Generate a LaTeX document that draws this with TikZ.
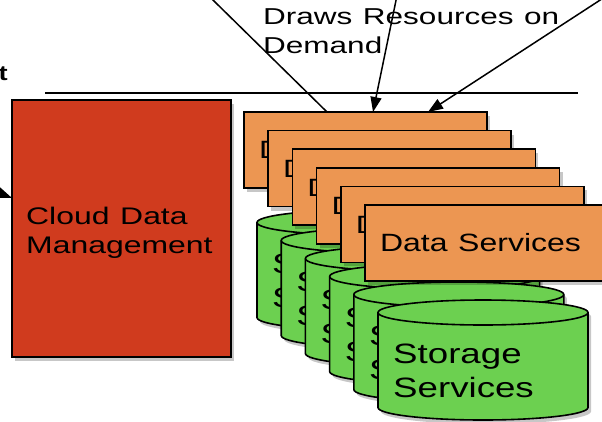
\documentclass[tikz,border=0pt]{standalone}
\usepackage{fontspec}
\setmainfont{Liberation Sans}
\usepackage{graphicx}
\usetikzlibrary{arrows.meta,shadows}
\definecolor{cdmred}{RGB}{208,59,30}
\definecolor{dsorange}{RGB}{236,150,82}
\definecolor{ssgreen}{RGB}{108,208,80}
\newcommand{\wx}[2][1.3]{\scalebox{#1}[1]{#2}}
\begin{document}
\begin{tikzpicture}[x=1pt,y=-1pt,
  shad/.style={drop shadow={shadow xshift=3pt,shadow yshift=-4pt,fill=black,opacity=0.22}},
  cdmbox/.style={draw,line width=1.6pt,fill=cdmred,shad,anchor=north west,outer sep=0pt,
    minimum width=219pt,minimum height=257pt,inner sep=0pt},
  dsbox/.style={draw,line width=1.6pt,fill=dsorange,shad,anchor=north west,outer sep=0pt,
    minimum height=76pt,text width=213pt,inner xsep=15pt,inner ysep=0pt,align=left,
    font=\fontsize{25}{30}\selectfont},
  cylbody/.style={draw,line width=1.6pt,fill=ssgreen,shad},
  cyltop/.style={draw,line width=1.6pt},
  sstext/.style={anchor=base west,inner sep=0pt,text width=190pt,align=left,
    font=\fontsize{28}{34}\selectfont},
  cdmtext/.style={anchor=base west,inner sep=0pt,text width=200pt,align=left,
    font=\fontsize{24}{29}\selectfont},
  drtext/.style={anchor=base west,inner sep=0pt,text width=330pt,align=left,
    font=\fontsize{23}{29}\selectfont},
  conn/.style={line width=1.5pt},
  arr/.style={line width=1.5pt,-{Triangle[length=15pt,width=11pt]}},
]
\useasboundingbox (0,0) rectangle (602,421);
\clip (0,0) rectangle (602,421);
\fill[white] (0,0) rectangle (602,421);

% Cloud Data Management
\node[cdmbox] (cdm) at (12,100) {};
\node[cdmtext] (cdmt) at (26,224) {\wx[1.33]{Cloud Data}\\\wx[1.33]{Management}};

% Storage services cylinders
\foreach \k in {0,...,5} {
  \pgfmathsetmacro\L{257+24.2*\k}
  \pgfmathsetmacro\T{210+18*\k}
  \path[cylbody] (\L,\T+12.5) -- (\L,\T+107.5)
    arc[start angle=180,end angle=0,x radius=105,y radius=12.5]
    -- (\L+210,\T+12.5)
    arc[start angle=0,end angle=-180,x radius=105,y radius=12.5] -- cycle;
  \draw[cyltop] (\L,\T+12.5) arc[start angle=180,end angle=0,x radius=105,y radius=12.5];
  \node[sstext] (ss\k) at (\L+15,\T+63) {\wx[1.31]{Storage}\\\wx[1.31]{Services}};
}

% Data services boxes
\foreach \k in {0,...,5} {
  \node[dsbox] (ds\k) at ({244+24.2*\k},{112+18.6*\k}) {\wx[1.28]{Data Services}};
}

% separator line
\coordinate (hl1) at (45,93);
\coordinate (hl2) at (578,93);
\draw[line width=1.2pt] (hl1) -- (hl2);

% arrows from above
\coordinate (s1) at (193,-19.6);
\coordinate (t1) at (327,112);
\coordinate (s2) at (400.2,-20);
\coordinate (t2) at (373,112);
\coordinate (s3) at (631,-20);
\coordinate (t3) at (428,112);
\draw[conn] (s1) -- (t1);
\draw[arr] (s2) -- (t2);
\draw[arr] (s3) -- (t3);

% arrow into the management box
\coordinate (la) at (-35,180);
\coordinate (lt) at (12,198);
\draw[arr] (la) -- (lt);

% texts
\node[drtext] (dr) at (263,24) {\wx[1.37]{Draws Resources on}\\\wx[1.37]{Demand}};
\node[anchor=base east,inner sep=0pt,font=\bfseries\fontsize{21}{24}\selectfont] (tt) at (8,80) {\wx{t}};
\end{tikzpicture}
\end{document}
